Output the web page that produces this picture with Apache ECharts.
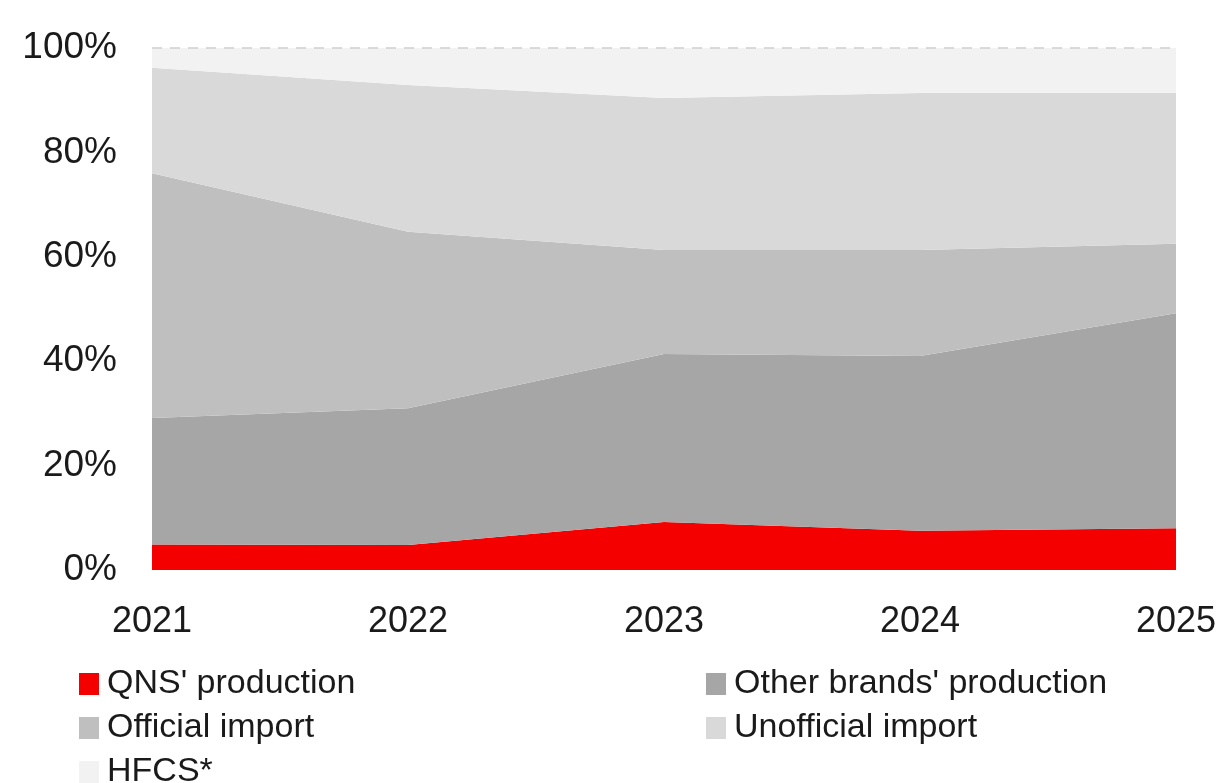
<!DOCTYPE html>
<html>
<head>
<meta charset="utf-8">
<script src="https://cdn.jsdelivr.net/npm/echarts@6/dist/echarts.min.js"></script>
<style>
html,body{margin:0;padding:0;background:#fff;}
#chart{width:1224px;height:783px;}
</style>
</head>
<body>
<div id="chart"></div>
<script>
const years = ['2021', '2022', '2023', '2024', '2025'];
const qnsProduction = [4.9, 4.8, 9.2, 7.5, 8.0];
const otherBrandsProduction = [24.2, 26.2, 32.2, 33.5, 41.2];
const officialImport = [46.9, 33.8, 19.9, 20.3, 13.3];
const unofficialImport = [20.2, 28.1, 29.1, 30.1, 28.9];
const hfcs = [3.8, 7.1, 9.6, 8.6, 8.6];
const seriesNames = ["QNS' production", "Other brands' production", "Official import", "Unofficial import", "HFCS*"];

const colors = ['#f40000', '#a6a6a6', '#bfbfbf', '#d9d9d9', '#f2f2f2'];
const FONT = 'Liberation Sans, Arial, sans-serif';
const chart = echarts.init(document.getElementById('chart'));

function areaSeries(name, data, color, extra) {
  return Object.assign({
    name: name,
    type: 'line',
    stack: 'total',
    data: data,
    symbol: 'none',
    lineStyle: { width: 0 },
    areaStyle: { color: color, opacity: 1 },
    itemStyle: { color: color },
    emphasis: { disabled: true },
    animation: false
  }, extra || {});
}

const legendText = { fontFamily: FONT, fontSize: 34, color: '#1a1a1a', padding: [0, 0, 0, 3] };

chart.setOption({
  backgroundColor: '#fff',
  animation: false,
  grid: { left: 152, right: 48, top: 48, bottom: 213 },
  legend: [
    {
      orient: 'vertical', left: 79, top: 667, height: 200, padding: 0,
      itemWidth: 20, itemHeight: 22, itemGap: 10,
      icon: 'rect', textStyle: legendText,
      data: [seriesNames[0], seriesNames[2], seriesNames[4]],
      selectedMode: false
    },
    {
      orient: 'vertical', left: 706, top: 667, height: 200, padding: 0,
      itemWidth: 20, itemHeight: 22, itemGap: 10,
      icon: 'rect', textStyle: legendText,
      data: [seriesNames[1], seriesNames[3]],
      selectedMode: false
    }
  ],
  xAxis: {
    type: 'category',
    data: years,
    boundaryGap: false,
    axisLine: { show: false },
    axisTick: { show: false },
    axisLabel: { fontFamily: FONT, fontSize: 36, color: '#1a1a1a', margin: 34,
      interval: 0 }
  },
  yAxis: {
    type: 'value',
    min: 0, max: 100, interval: 20,
    axisLine: { show: false },
    axisTick: { show: false },
    splitLine: { show: false },
    axisLabel: { fontFamily: FONT, fontSize: 37, color: '#1a1a1a', margin: 35,
      formatter: v => v + '%' }
  },
  series: [
    areaSeries(seriesNames[0], qnsProduction, colors[0]),
    areaSeries(seriesNames[1], otherBrandsProduction, colors[1]),
    areaSeries(seriesNames[2], officialImport, colors[2]),
    areaSeries(seriesNames[3], unofficialImport, colors[3]),
    areaSeries(seriesNames[4], hfcs, colors[4], {
      markLine: {
        silent: true, symbol: 'none', label: { show: false },
        lineStyle: { color: '#cfcfcf', type: [10, 8], width: 1.5 },
        data: [{ yAxis: 100 }],
        animation: false
      }
    })
  ]
});
</script>
</body>
</html>
